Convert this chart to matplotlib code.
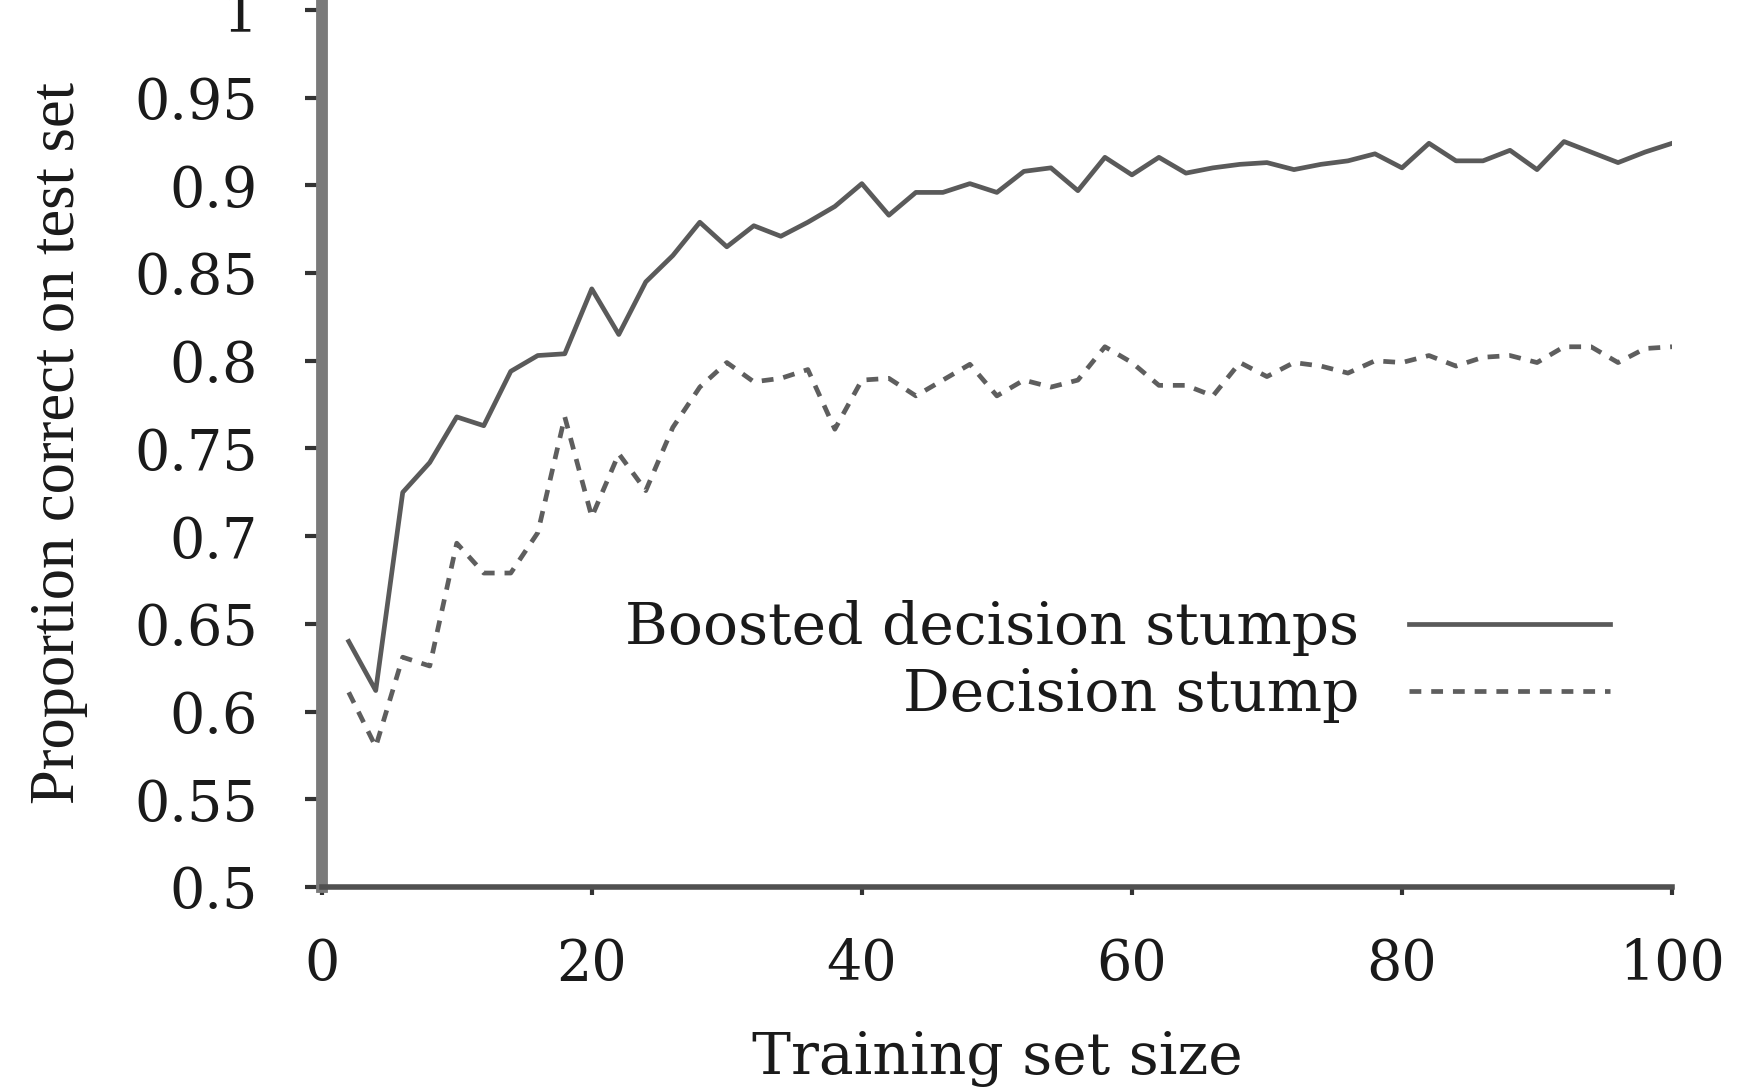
import matplotlib
matplotlib.use("Agg")
import matplotlib.pyplot as plt
from matplotlib.ticker import FuncFormatter

# training set sizes
sizes = [2, 4, 6, 8, 10, 12, 14, 16, 18, 20,
         22, 24, 26, 28, 30, 32, 34, 36, 38, 40,
         42, 44, 46, 48, 50, 52, 54, 56, 58, 60,
         62, 64, 66, 68, 70, 72, 74, 76, 78, 80,
         82, 84, 86, 88, 90, 92, 94, 96, 98, 100]

boosted = [0.640, 0.612, 0.725, 0.742, 0.768, 0.763, 0.794, 0.803, 0.804, 0.841,
           0.815, 0.845, 0.860, 0.879, 0.865, 0.877, 0.871, 0.879, 0.888, 0.901,
           0.883, 0.896, 0.896, 0.901, 0.896, 0.908, 0.910, 0.897, 0.916, 0.906,
           0.916, 0.907, 0.910, 0.912, 0.913, 0.909, 0.912, 0.914, 0.918, 0.910,
           0.924, 0.914, 0.914, 0.920, 0.909, 0.925, 0.919, 0.913, 0.919, 0.924]

stump = [0.611, 0.580, 0.631, 0.626, 0.696, 0.679, 0.679, 0.702, 0.768, 0.711,
         0.747, 0.726, 0.762, 0.785, 0.799, 0.788, 0.790, 0.795, 0.761, 0.789,
         0.790, 0.780, 0.789, 0.798, 0.780, 0.789, 0.785, 0.789, 0.808, 0.799,
         0.786, 0.786, 0.780, 0.799, 0.791, 0.799, 0.797, 0.793, 0.800, 0.799,
         0.803, 0.797, 0.802, 0.803, 0.799, 0.808, 0.808, 0.799, 0.807, 0.808]

labels = ["Boosted decision stumps", "Decision stump"]
xticks = [0, 20, 40, 60, 80, 100]
yticks = [0.5, 0.55, 0.6, 0.65, 0.7, 0.75, 0.8, 0.85, 0.9, 0.95, 1.0]

wide = "DejaVu Serif"

fig = plt.figure(figsize=(17.39, 10.87), dpi=100)
ax = fig.add_axes([0.185, 0.184, 0.7765, 0.816])

ax.plot(sizes, boosted, color="#5a5a5a", lw=3.4, label=labels[0])
ax.plot(sizes, stump, color="#5e5e5e", lw=3.4, dashes=(2.5, 2.1), label=labels[1])

ax.set_xlim(0, 100)
ax.set_ylim(0.5, 1.0057)
ax.set_xticks(xticks)
ax.set_yticks(yticks)
ax.yaxis.set_major_formatter(FuncFormatter(lambda v, p: "%g" % v))

for s in ["top", "right"]:
    ax.spines[s].set_visible(False)
ax.spines["left"].set_linewidth(8.5)
ax.spines["left"].set_color("#7a7a7a")
ax.spines["bottom"].set_linewidth(4)
ax.spines["bottom"].set_color("#505050")

ax.tick_params(axis="y", direction="out", length=12, width=3, color="#333333",
               pad=34, labelsize=40)
ax.tick_params(axis="x", direction="out", length=6, width=3, color="#333333",
               pad=30, labelsize=40)
for t in ax.get_xticklabels() + ax.get_yticklabels():
    t.set_fontfamily(wide)
    t.set_color("#1a1a1a")

ax.set_xlabel("Training set size", fontfamily=wide, fontsize=42, color="#1a1a1a",
              labelpad=28)
ax.set_ylabel("Proportion correct on test set", fontfamily="Liberation Serif",
              fontsize=45, color="#1a1a1a", labelpad=33)

leg = ax.legend(loc="center right", bbox_to_anchor=(0.954, 0.254), frameon=False,
                markerfirst=False, handlelength=3.45, handletextpad=0.85,
                labelspacing=0.19, borderpad=0, borderaxespad=0,
                prop={"family": wide, "size": 42})
for t in leg.get_texts():
    t.set_color("#1a1a1a")

fig.savefig("out.png", dpi=100)
